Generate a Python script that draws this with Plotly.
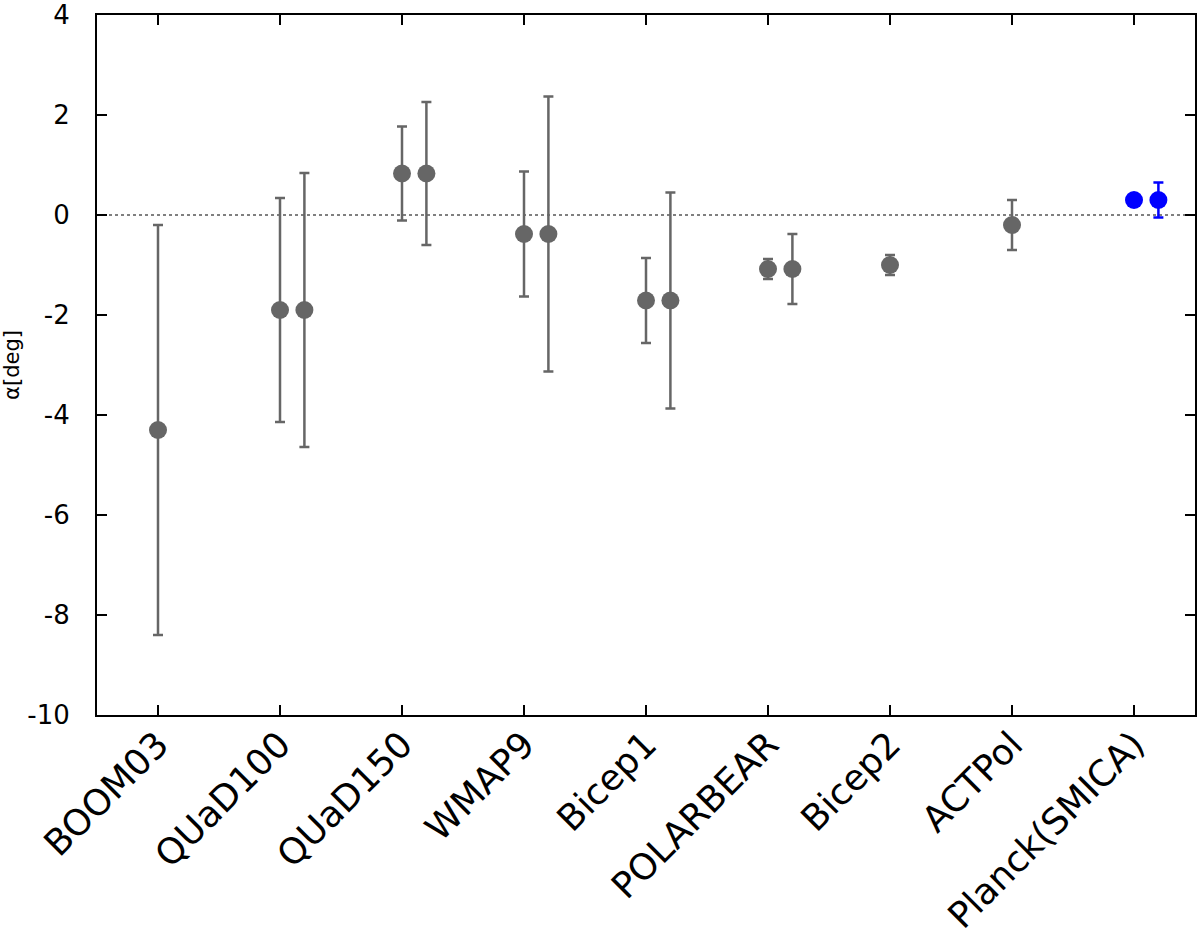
import plotly.graph_objects as go

experiments = ["BOOM03", "QUaD100", "QUaD150", "WMAP9", "Bicep1",
               "POLARBEAR", "Bicep2", "ACTPol", "Planck(SMICA)"]
alpha = [-4.3, -1.9, 0.83, -0.38, -1.71, -1.08, -1.0, -0.2, 0.3]
err_first = [4.1, 2.24, 0.94, 1.25, 0.85, 0.2, 0.2, 0.5, None]
err_second = [None, 2.74, 1.43, 2.75, 2.16, 0.7, None, None, 0.35]
y_ticks = [-10, -8, -6, -4, -2, 0, 2, 4]
y_tick_labels = ["-10", "-8", "-6", "-4", "-2", "0", "2", "4"]
second_offset = 0.2
gray = "#666666"
blue = "#0000ff"
planck_name = "Planck(SMICA)"

fig = go.Figure()

pos = list(range(1, len(experiments) + 1))

# first points (gray, with error bars)
gx, gy, ge = [], [], []
for p, name, a, e in zip(pos, experiments, alpha, err_first):
    if name != planck_name:
        gx.append(p); gy.append(a); ge.append(e)
fig.add_trace(go.Scatter(
    x=gx, y=gy, mode="markers",
    marker=dict(color=gray, size=18),
    error_y=dict(type="data", array=ge, color=gray, thickness=2.5, width=5),
    showlegend=False))

# second points (gray)
sx, sy, se = [], [], []
for p, name, a, e in zip(pos, experiments, alpha, err_second):
    if e is not None and name != planck_name:
        sx.append(p + second_offset); sy.append(a); se.append(e)
fig.add_trace(go.Scatter(
    x=sx, y=sy, mode="markers",
    marker=dict(color=gray, size=18),
    error_y=dict(type="data", array=se, color=gray, thickness=2.5, width=5),
    showlegend=False))

# Planck points (blue)
i = experiments.index(planck_name)
fig.add_trace(go.Scatter(
    x=[pos[i]], y=[alpha[i]], mode="markers",
    marker=dict(color=blue, size=18), showlegend=False))
fig.add_trace(go.Scatter(
    x=[pos[i] + second_offset], y=[alpha[i]], mode="markers",
    marker=dict(color=blue, size=18),
    error_y=dict(type="data", array=[err_second[i]], color=blue, thickness=2.5, width=5),
    showlegend=False))

fig.add_hline(y=0, line=dict(color="black", width=1, dash="dot"), layer="below")

font_family = "DejaVu Sans, Verdana, sans-serif"
fig.update_layout(
    width=1200, height=935,
    margin=dict(l=97, r=5, t=15, b=220, autoexpand=False),
    plot_bgcolor="white", paper_bgcolor="white",
    font=dict(family=font_family, color="black"),
    xaxis=dict(range=[0.5, 9.5], tickvals=pos, ticktext=experiments,
               tickangle=-45, tickfont=dict(size=36), automargin=False,
               ticklabeloverflow="allow",
               showgrid=False, zeroline=False, showline=True, linecolor="black",
               linewidth=2, mirror="allticks", ticks="inside", ticklen=10,
               tickwidth=1.5, tickcolor="black", ticklabelstandoff=-8),
    yaxis=dict(range=[-10, 4], tickvals=y_ticks, ticktext=y_tick_labels,
               tickfont=dict(size=26), automargin=False,
               ticklabeloverflow="allow",
               title=dict(text="α[deg]", font=dict(size=21), standoff=3),
               showgrid=False, zeroline=False, showline=True, linecolor="black",
               linewidth=2, mirror="allticks", ticks="inside", ticklen=10,
               tickwidth=1.5, tickcolor="black", ticklabelstandoff=20),
)

fig.write_html("out.html", config={"displayModeBar": False},
               post_script="document.body.style.margin='0px';")
